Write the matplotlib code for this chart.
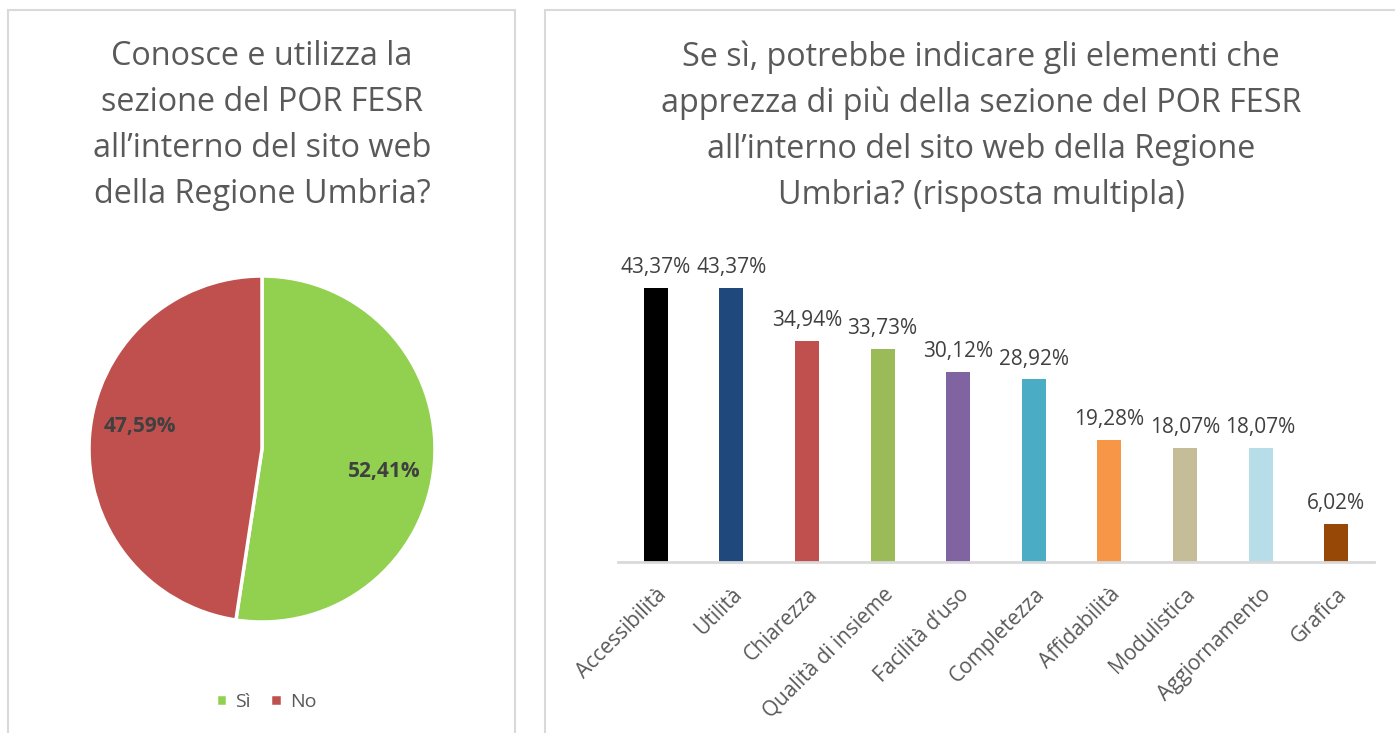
import numpy as np
import matplotlib
matplotlib.use("Agg")
import matplotlib.pyplot as plt
from matplotlib.patches import Rectangle

plt.rcParams['font.family'] = ['Open Sans', 'DejaVu Sans']

# pie data
pie_labels = ["Sì", "No"]
pie_values = [52.41, 47.59]
pie_colors = ["#92D050", "#C0504D"]
pie_title = "Conosce e utilizza la\nsezione del POR FESR\nall’interno del sito web\ndella Regione Umbria?"

# bar data
categories = ["Accessibilità", "Utilità", "Chiarezza", "Qualità di insieme", "Facilità d’uso",
              "Completezza", "Affidabilità", "Modulistica", "Aggiornamento", "Grafica"]
values = [43.37, 43.37, 34.94, 33.73, 30.12, 28.92, 19.28, 18.07, 18.07, 6.02]
bar_colors = ["#000000", "#1F497D", "#C0504D", "#9BBB59", "#8064A2",
              "#4BACC6", "#F79646", "#C4BD97", "#B7DEE8", "#974706"]
bar_title = ("Se sì, potrebbe indicare gli elementi che\napprezza di più della sezione del POR FESR\n"
             "all’interno del sito web della Regione\nUmbria? (risposta multipla)")

W, H = 1395, 733
fig = plt.figure(figsize=(W / 100, H / 100), dpi=100)

def fx(px):
    return px / W

def fy(py):
    return 1 - py / H

text_col = "#595959"

# panel frames
for x0, x1 in [(8, 515), (545, 1420)]:
    fig.patches.append(Rectangle((fx(x0), -0.02), fx(x1 - x0), fy(10) + 0.02,
                                 transform=fig.transFigure, fill=False,
                                 edgecolor="#D9D9D9", linewidth=1.5))

# ---- pie ----
cx, cy, r = 262, 449, 173
ax1 = fig.add_axes([fx(cx - r), fy(cy + r), fx(2 * r), 2 * r / H])
wedges, _, autotexts = ax1.pie(pie_values, colors=pie_colors, startangle=90, counterclock=False,
                               autopct=lambda p: f"{p:.2f}%".replace(".", ","), pctdistance=0.72,
                               wedgeprops=dict(edgecolor="white", linewidth=2.5),
                               textprops=dict(fontsize=15, fontweight="bold", color="#404040"))
ax1.set_xlim(-1, 1)
ax1.set_ylim(-1, 1)
# nudge labels a bit (Excel best fit)
rot = np.deg2rad(-6)
for t in autotexts:
    x, y = t.get_position()
    t.set_position((x * np.cos(rot) - y * np.sin(rot), x * np.sin(rot) + y * np.cos(rot)))

fig.text(fx(262), fy(40), pie_title, ha="center", va="top", fontsize=23.3,
         color=text_col, linespacing=1.52)

# legend
leg = fig.legend(wedges, pie_labels, loc="center", bbox_to_anchor=(fx(266), fy(702)),
                 ncol=2, frameon=False, fontsize=14, handlelength=0.6, handleheight=0.6,
                 handletextpad=0.4, columnspacing=1.0, labelcolor=text_col)

# ---- bars ----
ax2 = fig.add_axes([fx(618), fy(562), fx(756), 316 / H])
x = np.arange(len(categories))
bars = ax2.bar(x, values, width=0.32, color=bar_colors)
ax2.set_xlim(-0.5, len(categories) - 0.5)
ax2.set_ylim(0, 50)
for s in ["top", "right", "left"]:
    ax2.spines[s].set_visible(False)
ax2.spines["bottom"].set_color("#D9D9D9")
ax2.spines["bottom"].set_linewidth(2)
ax2.set_yticks([])
ax2.set_xticks(x)
ax2.set_xticklabels(categories, rotation=45, ha="right", rotation_mode="anchor",
                    fontsize=15, color=text_col)
ax2.tick_params(axis="x", length=0, pad=16)
for b, v in zip(bars, values):
    ax2.annotate(f"{v:.2f}%".replace(".", ","), (b.get_x() + b.get_width() / 2, v),
                 xytext=(0, 7), textcoords="offset points", ha="center", va="bottom",
                 fontsize=15, color="#404040")

fig.text(fx(981), fy(40), bar_title, ha="center", va="top", fontsize=23.3,
         color=text_col, linespacing=1.52)

fig.savefig("out.png", dpi=100)
